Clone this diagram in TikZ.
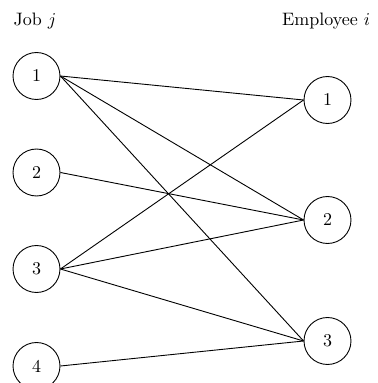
\documentclass[tikz,border=0pt]{standalone}
\begin{document}
\begin{tikzpicture}[x=0.5556pt,y=-0.5556pt,
  vtx/.style={draw,circle,minimum size=26.1pt,inner sep=0pt,line width=0.5pt},
  edge/.style={line width=0.5pt},
  hdr/.style={anchor=base,inner sep=0pt}]
\useasboundingbox (0,0) rectangle (378,383);
\node[hdr] (hj) at (35,26) {Job $j$};
\node[hdr] (hi) at (326,26) {Employee $i$};
\node[vtx] (l1) at (36.5,76) {1};
\node[vtx] (l2) at (36.5,172.5) {2};
\node[vtx] (l3) at (36.5,269) {3};
\node[vtx] (l4) at (36.5,366) {4};
\node[vtx] (r1) at (327.5,100) {1};
\node[vtx] (r2) at (327.5,220) {2};
\node[vtx] (r3) at (327.5,341) {3};
\draw[edge] (l1.east) -- (r1.west);
\draw[edge] (l1.east) -- (r2.west);
\draw[edge] (l1.east) -- (r3.west);
\draw[edge] (l2.east) -- (r2.west);
\draw[edge] (l3.east) -- (r1.west);
\draw[edge] (l3.east) -- (r2.west);
\draw[edge] (l3.east) -- (r3.west);
\draw[edge] (l4.east) -- (r3.west);
\end{tikzpicture}
\end{document}
